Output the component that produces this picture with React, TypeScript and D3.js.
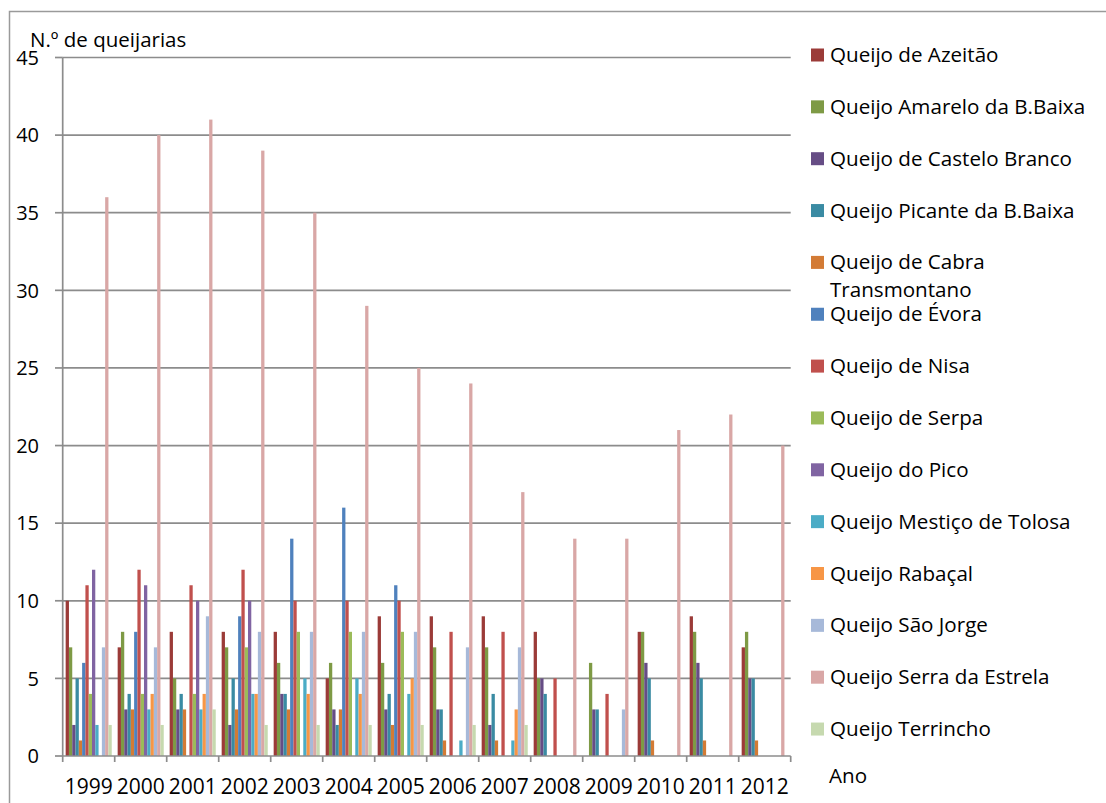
import React from 'react';
import * as d3 from 'd3';

const years = ['1999','2000','2001','2002','2003','2004','2005','2006','2007','2008','2009','2010','2011','2012'];
const seriesNames = [
  'Queijo de Azeitão',
  'Queijo Amarelo da B.Baixa',
  'Queijo de Castelo Branco',
  'Queijo Picante da B.Baixa',
  'Queijo de Cabra Transmontano',
  'Queijo de Évora',
  'Queijo de Nisa',
  'Queijo de Serpa',
  'Queijo do Pico',
  'Queijo Mestiço de Tolosa',
  'Queijo Rabaçal',
  'Queijo São Jorge',
  'Queijo Serra da Estrela',
  'Queijo Terrincho',
];
const azeitao = [10,7,8,8,8,5,9,9,9,8,0,8,9,7];
const amarelo = [7,8,5,7,6,6,6,7,7,5,6,8,8,8];
const casteloBranco = [2,3,3,2,4,3,3,3,2,5,3,6,6,5];
const picante = [5,4,4,5,4,2,4,3,4,4,3,5,5,5];
const cabra = [1,3,3,3,3,3,2,1,1,0,0,1,1,1];
const evora = [6,8,0,9,14,16,11,0,0,0,0,0,0,0];
const nisa = [11,12,11,12,10,10,10,8,8,5,4,0,0,0];
const serpa = [4,4,4,7,8,8,8,0,0,0,0,0,0,0];
const pico = [12,11,10,10,0,0,0,0,0,0,0,0,0,0];
const tolosa = [2,3,3,4,5,5,4,1,1,0,0,0,0,0];
const rabacal = [0,4,4,4,4,4,5,0,3,0,0,0,0,0];
const saoJorge = [7,7,9,8,8,8,8,7,7,0,3,0,0,0];
const serraEstrela = [36,40,41,39,35,29,25,24,17,14,14,21,22,20];
const terrincho = [2,2,3,2,2,2,2,2,2,0,0,0,0,0];
const seriesValues = [azeitao, amarelo, casteloBranco, picante, cabra, evora, nisa, serpa, pico, tolosa, rabacal, saoJorge, serraEstrela, terrincho];
const colors = ['#9B3B38','#7E9A45','#664D85','#3A8BA3','#D37B35','#4F81BD','#C0504D','#9BBB59','#8064A2','#4BACC6','#F79646','#A7B9D9','#D9A7A6','#C6D9AF'];
const yTicks = [0,5,10,15,20,25,30,35,40,45];

const FONT = '"Open Sans", sans-serif';

export default function App() {
  const x = d3.scaleBand<string>().domain(years).range([62.7, 790.7]).padding(0);
  const inner = d3.scaleBand<number>().domain(d3.range(seriesNames.length)).range([0, x.bandwidth()]).paddingInner(0).paddingOuter(0.9);
  const y = d3.scaleLinear().domain([0, 45]).range([756, 57.5]);
  const grid = '#8C8C8C';
  const legendY = (i: number) => 55 + i * 51.85;

  return (
    <svg width={1106} height={803} style={{ position: 'absolute', left: 0, top: 0, background: '#fff' }} fontFamily={FONT}>
      <rect x={0} y={0} width={1106} height={803} fill="#fff" />
      <rect x={9.5} y={11.5} width={1110} height={820} fill="none" stroke="#9A9A9A" strokeWidth={1.5} />
      {yTicks.filter(t => t > 0).map(t => (
        <line key={'g' + t} x1={62.7} x2={790.7} y1={y(t)} y2={y(t)} stroke={grid} strokeWidth={1.7} />
      ))}
      {years.map((yr, yi) => (
        <g key={yr} transform={`translate(${x(yr)},0)`}>
          {seriesValues.map((vals, si) => vals[yi] > 0 ? (
            <rect key={si} x={inner(si)} width={inner.bandwidth()} y={y(vals[yi])} height={y(0) - y(vals[yi])} fill={colors[si]} />
          ) : null)}
        </g>
      ))}
      <line x1={62.7} x2={62.7} y1={y(45)} y2={y(0)} stroke={grid} strokeWidth={1.7} />
      <line x1={62.7} x2={790.7} y1={y(0)} y2={y(0)} stroke={grid} strokeWidth={1.7} />
      {yTicks.map(t => (
        <g key={'t' + t}>
          <line x1={55} x2={62.7} y1={y(t)} y2={y(t)} stroke={grid} strokeWidth={1.7} />
          <text x={39} y={y(t)} dy="0.36em" textAnchor="end" fontSize={20} fill="#000">{t}</text>
        </g>
      ))}
      {d3.range(years.length + 1).map(i => {
        const xx = 62.7 + i * x.step();
        return <line key={'xt' + i} x1={xx} x2={xx} y1={y(0)} y2={y(0) + 6} stroke={grid} strokeWidth={1.7} />;
      })}
      {years.map(yr => (
        <text key={'xl' + yr} x={(x(yr) as number) + x.bandwidth() / 2} y={794} textAnchor="middle" fontSize={21} fill="#000">{yr}</text>
      ))}
      <text x={30} y={47} fontSize={20.5} fill="#000">N.º de queijarias</text>
      {seriesNames.map((name, i) => {
        const cy = legendY(i);
        const lines = name === 'Queijo de Cabra Transmontano' ? ['Queijo de Cabra', 'Transmontano'] : [name];
        return (
          <g key={'lg' + i}>
            <rect x={811} y={cy - 6.5} width={13} height={13} fill={colors[i]} />
            {lines.map((ln, li) => (
              <text key={li} x={830} y={cy + 7 + li * 28} fontSize={20.6} fill="#000">{ln}</text>
            ))}
          </g>
        );
      })}
      <text x={829} y={783} fontSize={20.6} fill="#000">Ano</text>
    </svg>
  );
}
